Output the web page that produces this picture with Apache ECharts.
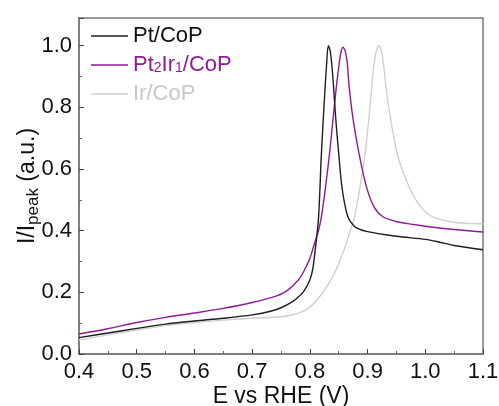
<!DOCTYPE html>
<html><head><meta charset="utf-8">
<script src="https://cdn.jsdelivr.net/npm/echarts@6/dist/echarts.min.js"></script>
<style>html,body{margin:0;padding:0;background:#fff}#c{width:499px;height:406px}</style>
</head><body><div id="c"></div>
<script>
// Pt/CoP
const ptX = [0.40,0.45,0.50,0.55,0.60,0.65,0.70,0.73,0.75,0.77,0.78,0.79,0.80,0.805,0.81,0.815,0.82,0.825,0.829,0.832,0.835,0.838,0.841,0.845,0.85,0.855,0.86,0.865,0.87,0.88,0.90,0.95,1.00,1.02,1.05,1.10];
const ptY = [0.053,0.068,0.083,0.097,0.107,0.116,0.127,0.138,0.150,0.170,0.185,0.205,0.240,0.275,0.35,0.44,0.65,0.82,0.94,1.0,0.985,0.94,0.868,0.76,0.65,0.55,0.49,0.45,0.43,0.41,0.397,0.382,0.372,0.365,0.352,0.338];
// Pt2Ir1/CoP
const ptirX = [0.40,0.45,0.50,0.55,0.60,0.65,0.70,0.74,0.76,0.78,0.79,0.80,0.805,0.81,0.815,0.82,0.825,0.83,0.835,0.84,0.846,0.85,0.853,0.857,0.861,0.865,0.868,0.875,0.885,0.898,0.911,0.926,0.949,0.98,1.006,1.05,1.10];
const ptirY = [0.065,0.082,0.102,0.119,0.133,0.148,0.167,0.187,0.205,0.24,0.27,0.31,0.34,0.37,0.40,0.445,0.51,0.585,0.665,0.76,0.868,0.93,0.97,0.995,0.985,0.94,0.868,0.76,0.652,0.543,0.478,0.446,0.43,0.42,0.413,0.404,0.396];
// Ir/CoP
const irX = [0.40,0.45,0.50,0.55,0.60,0.65,0.70,0.75,0.77,0.79,0.80,0.81,0.82,0.83,0.84,0.85,0.86,0.87,0.877,0.885,0.891,0.896,0.902,0.907,0.910,0.913,0.916,0.920,0.923,0.926,0.929,0.932,0.936,0.940,0.945,0.951,0.961,0.972,0.982,0.992,1.002,1.012,1.03,1.046,1.07,1.10];
const irY = [0.045,0.062,0.078,0.092,0.102,0.110,0.116,0.121,0.127,0.140,0.152,0.170,0.193,0.220,0.253,0.293,0.342,0.40,0.44,0.52,0.59,0.655,0.76,0.86,0.92,0.962,0.988,1.0,0.99,0.962,0.918,0.865,0.81,0.762,0.708,0.652,0.592,0.543,0.505,0.478,0.458,0.446,0.435,0.428,0.424,0.422];

const seriesNames = ['Pt/CoP','Pt2Ir1/CoP','Ir/CoP'];
const seriesColors = ['#1e1e1e','#8e1b95','#cfcfcf'];
const xTicks = [0.4,0.5,0.6,0.7,0.8,0.9,1.0,1.1];
const yTicks = [0.0,0.2,0.4,0.6,0.8,1.0];

const zip = (xs, ys) => xs.map((x, i) => [x, ys[i]]);
const FONT = 'Liberation Sans, Arial, sans-serif';

const chart = echarts.init(document.getElementById('c'), null, {renderer: 'canvas'});
chart.setOption({
  animation: false,
  backgroundColor: '#fff',
  grid: {left: 79, right: 16, top: 18, bottom: 52, show: true, borderColor: '#777', borderWidth: 1.5, containLabel: false, outerBoundsMode: 'none'},
  legend: {
    orient: 'vertical', left: 91, top: 25, padding: 0, itemWidth: 37, itemHeight: 1.5, itemGap: 7, icon: 'rect',
    data: [
      {name: seriesNames[0], textStyle: {color: '#111'}},
      {name: seriesNames[1], textStyle: {color: seriesColors[1]}},
      {name: seriesNames[2], textStyle: {color: '#c8c8c8'}}
    ],
    formatter: n => n === 'Pt2Ir1/CoP' ? 'Pt{s|2}Ir{s|1}/CoP' : n,
    textStyle: {fontFamily: FONT, fontSize: 22, rich: {s: {fontSize: 14, color: seriesColors[1], fontFamily: FONT, padding: [6, 0, 0, 0]}}}
  },
  xAxis: {
    type: 'value', min: 0.4, max: 1.1, interval: 0.1,
    name: 'E vs RHE (V)', nameLocation: 'middle', nameGap: 31, nameMoveOverlap: false,
    nameTextStyle: {fontFamily: FONT, fontSize: 23, color: '#111'},
    axisLine: {show: true, lineStyle: {color: '#777', width: 1.5}},
    axisTick: {show: true, inside: true, length: 5, lineStyle: {color: '#444'}},
    minorTick: {show: true, splitNumber: 2, length: 3, lineStyle: {color: '#666'}},
    splitLine: {show: false},
    axisLabel: {fontFamily: FONT, fontSize: 22, color: '#111', margin: 7,
      formatter: v => xTicks.some(t => Math.abs(t - v) < 1e-6) ? v.toFixed(1) : ''}
  },
  yAxis: {
    type: 'value', min: 0, max: 1.09, interval: 0.2,
    name: 'I/I{sub|peak} (a.u.)', nameLocation: 'middle', nameGap: 37, nameMoveOverlap: false,
    nameTextStyle: {fontFamily: FONT, fontSize: 23, color: '#111',
      rich: {sub: {fontSize: 17, fontFamily: FONT, color: '#111', padding: [12, 0, 0, 0]}}},
    axisLine: {show: true, lineStyle: {color: '#777', width: 1.5}},
    axisTick: {show: true, inside: true, length: 5, lineStyle: {color: '#444'}},
    minorTick: {show: true, splitNumber: 2, length: 3, lineStyle: {color: '#666'}},
    splitLine: {show: false},
    axisLabel: {fontFamily: FONT, fontSize: 22, color: '#111', margin: 7,
      formatter: v => yTicks.some(t => Math.abs(t - v) < 1e-6) ? v.toFixed(1) : ''}
  },
  series: [
    {name: seriesNames[2], type: 'line', data: zip(irX, irY), smooth: 0.35, showSymbol: false, lineStyle: {color: seriesColors[2], width: 1.4}, itemStyle: {color: seriesColors[2]}, z: 1},
    {name: seriesNames[1], type: 'line', data: zip(ptirX, ptirY), smooth: 0.3, showSymbol: false, lineStyle: {color: seriesColors[1], width: 1.4}, itemStyle: {color: seriesColors[1]}, z: 2},
    {name: seriesNames[0], type: 'line', data: zip(ptX, ptY), smooth: 0.3, showSymbol: false, lineStyle: {color: seriesColors[0], width: 1.4}, itemStyle: {color: seriesColors[0]}, z: 3}
  ]
});
</script></body></html>
